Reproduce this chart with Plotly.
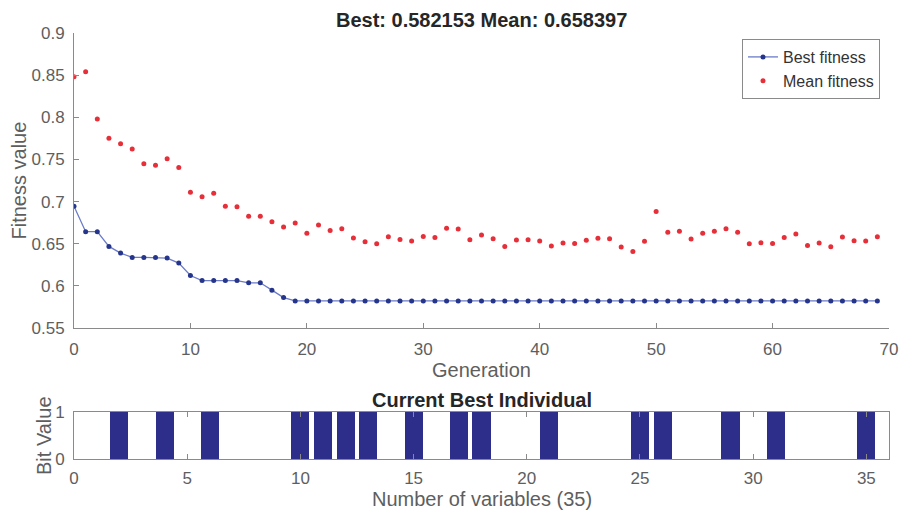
import plotly.graph_objects as go

# Genetic algorithm progress: best and mean fitness per generation
generations = list(range(70))

best_fitness = [
    0.6944, 0.6643, 0.6643, 0.6468, 0.6389, 0.6337, 0.6337, 0.6337, 0.6330, 0.6270,
    0.6123, 0.6063, 0.6063, 0.6063, 0.6063, 0.6036, 0.6036, 0.5949, 0.5861, 0.582153,
] + [0.582153] * 50

mean_fitness = [
    0.8480, 0.8540, 0.7980, 0.7750, 0.7687, 0.7623, 0.7449, 0.7432, 0.7508, 0.7405,
    0.7111, 0.7056, 0.7099, 0.6944, 0.6940, 0.6825, 0.6825, 0.6762, 0.6699, 0.6746,
    0.6623, 0.6722, 0.6657, 0.6679, 0.6568, 0.6524, 0.6500, 0.6583, 0.6551, 0.6532,
    0.6587, 0.6575, 0.6683, 0.6675, 0.6548, 0.6603, 0.6560, 0.6468, 0.6544, 0.6548,
    0.6532, 0.6472, 0.6508, 0.6504, 0.6540, 0.6565, 0.6560, 0.6461, 0.6409, 0.6528,
    0.6881, 0.6635, 0.6647, 0.6556, 0.6623, 0.6647, 0.6679, 0.6635, 0.6500, 0.6512,
    0.6504, 0.6575, 0.6615, 0.6480, 0.6508, 0.6464, 0.6580, 0.6536, 0.6532, 0.658397,
]

# Current best individual: one bit per variable (variables 1..35)
variables = list(range(1, 36))
bit_values = [0, 1, 0, 1, 0, 1, 0, 0, 0, 1,
              1, 1, 1, 0, 1, 0, 1, 1, 0, 0,
              1, 0, 0, 0, 1, 1, 0, 0, 1, 0,
              1, 0, 0, 0, 1]

fitness_ticks = [0.55, 0.6, 0.65, 0.7, 0.75, 0.8, 0.85, 0.9]
fitness_tick_text = ["0.55", "0.6", "0.65", "0.7", "0.75", "0.8", "0.85", "0.9"]
generation_ticks = [0, 10, 20, 30, 40, 50, 60, 70]
variable_ticks = [0, 5, 10, 15, 20, 25, 30, 35]

W, H = 899, 514
FONT = "Liberation Sans, Arial, Helvetica, sans-serif"
TICK_COLOR = "#5e5e5e"
AXIS_COLOR = "#8a8a8a"
TITLE_COLOR = "#262626"

fig = go.Figure()

fig.add_trace(go.Scatter(
    x=generations, y=best_fitness, mode="lines+markers", name="Best fitness",
    line=dict(color="#6b7bc8", width=1.3),
    marker=dict(color="#25358c", size=5),
    xaxis="x", yaxis="y",
))
fig.add_trace(go.Scatter(
    x=generations, y=mean_fitness, mode="markers", name="Mean fitness",
    marker=dict(color="#e62f39", size=5),
    xaxis="x", yaxis="y",
))

bar_x = [v for v, b in zip(variables, bit_values) if b]
bar_y = [b for b in bit_values if b]
fig.add_trace(go.Bar(
    x=bar_x, y=bar_y, width=0.8, showlegend=False,
    marker=dict(color="#2c2e8a", line=dict(width=0)),
    xaxis="x2", yaxis="y2",
))

top_dom_y = [1 - 328 / H, 1 - 33 / H]
bot_dom_y = [1 - 459 / H, 1 - 412 / H]
dom_x = [74 / W, 889 / W]

common_axis = dict(
    showgrid=False, zeroline=False, showline=True, linecolor=AXIS_COLOR, linewidth=1,
    ticks="inside", ticklen=5, tickcolor=AXIS_COLOR, automargin=False,
    tickfont=dict(family=FONT, size=17, color=TICK_COLOR),
)


def label(text, px, py, size=20, color=TICK_COLOR, angle=0):
    """Paper-anchored text centred on a pixel position."""
    return dict(text=text, x=px / W, y=1 - py / H, xref="paper", yref="paper",
                xanchor="center", yanchor="middle", showarrow=False, textangle=angle,
                font=dict(family=FONT, size=size, color=color))


fig.update_layout(
    width=W, height=H,
    margin=dict(l=0, r=0, t=0, b=0),
    paper_bgcolor="white", plot_bgcolor="white",
    font=dict(family=FONT, size=17, color=TICK_COLOR),
    xaxis=dict(**common_axis, domain=dom_x, range=[0, 70], tickvals=generation_ticks,
               anchor="y", ticklabelstandoff=6),
    yaxis=dict(**common_axis, domain=top_dom_y, range=[0.55, 0.9], tickvals=fitness_ticks,
               ticktext=fitness_tick_text, anchor="x", ticklabelstandoff=5),
    xaxis2=dict(**common_axis, domain=dom_x, range=[0, 36], tickvals=variable_ticks,
                anchor="y2", mirror="ticks", ticklabelstandoff=4),
    yaxis2=dict(**common_axis, domain=bot_dom_y, range=[0, 1], tickvals=[0, 1],
                anchor="x2", mirror="ticks", ticklabelstandoff=5),
    legend=dict(
        x=880 / W, y=1 - 39 / H, xanchor="right", yanchor="top",
        bgcolor="white", bordercolor="#8a8a8a", borderwidth=1,
        font=dict(family=FONT, size=16, color="#333333"),
        tracegroupgap=0, itemwidth=30,
    ),
    bargap=0,
    annotations=[
        label("<b>Best: 0.582153 Mean: 0.658397</b>", 481.5, 20, color=TITLE_COLOR),
        label("<b>Current Best Individual</b>", 481.5, 400, color=TITLE_COLOR),
        label("Generation", 481.5, 370),
        label("Number of variables (35)", 481.5, 499),
        label("Fitness value", 18, 180.5, angle=-90),
        label("Bit Value", 44, 436, angle=-90),
    ],
)

fig.write_html("out.html")
